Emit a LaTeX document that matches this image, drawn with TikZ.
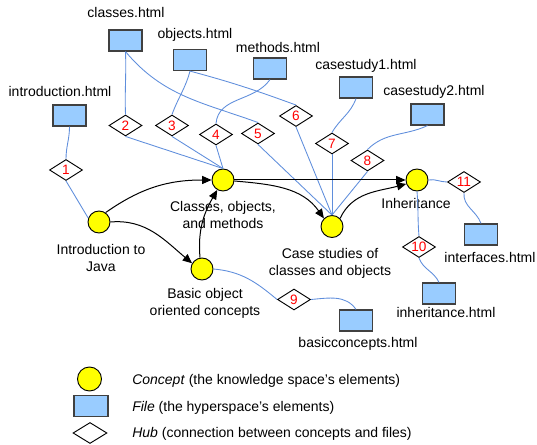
\documentclass[tikz,border=0pt]{standalone}
\usepackage{fontspec}
\setmainfont{Liberation Sans}
\usetikzlibrary{shapes.geometric,arrows.meta}

\definecolor{conceptyellow}{RGB}{255,255,0}
\definecolor{fileblue}{RGB}{153,204,255}
\definecolor{filegray}{RGB}{64,64,64}
\definecolor{linkblue}{RGB}{95,142,220}

\begin{document}
\begin{tikzpicture}[x=0.75pt,y=-0.75pt,
  concept/.style={circle,draw=black,line width=0.7pt,fill=conceptyellow,minimum size=16.5pt,inner sep=0pt},
  file/.style={rectangle,draw=filegray,line width=0.9pt,fill=fileblue,minimum width=24.75pt,minimum height=15.75pt,inner sep=0pt},
  hub/.style={diamond,draw=black,line width=0.7pt,fill=white,aspect=1.6,minimum width=24.75pt,minimum height=15.75pt,inner sep=0pt,text=red,font=\fontsize{10.2}{11}\selectfont},
  lbl/.style={font=\fontsize{10.5}{13}\selectfont,align=center,inner sep=0pt},
  link/.style={draw=linkblue,line width=0.65pt},
  flow/.style={draw=black,line width=0.75pt,-{Triangle[length=7pt,width=6pt]}}
]
\useasboundingbox (0,0) rectangle (537,445);

% concepts
\node[concept] (cIntro) at (99,222) {};
\node[concept] (cClass) at (223,180) {};
\node[concept] (cBasic) at (202,269) {};
\node[concept] (cCase)  at (332,226.5) {};
\node[concept] (cInh)   at (417,180) {};

% files
\node[file] (fIntro)   at (69.5,115.5) {};
\node[file] (fClasses) at (125.5,40.5) {};
\node[file] (fObjects) at (190,60) {};
\node[file] (fMethods) at (270,68.5) {};
\node[file] (fCaseA)   at (356,87.5) {};
\node[file] (fCaseB)   at (427.5,114.5) {};
\node[file] (fInterf)  at (481,234.5) {};
\node[file] (fInh)     at (439,293.5) {};
\node[file] (fBasic)   at (356,320.5) {};

% hubs
\node[hub] (h1)  at (66,170) {1};
\node[hub] (h2)  at (125.5,125.5) {2};
\node[hub] (h3)  at (172,125.5) {3};
\node[hub] (h4)  at (216,134.5) {4};
\node[hub] (h5)  at (258,133.5) {5};
\node[hub] (h6)  at (296,116) {6};
\node[hub] (h7)  at (332,143.5) {7};
\node[hub] (h8)  at (367.5,160.5) {8};
\node[hub] (h9)  at (294,299.5) {9};
\node[hub] (h10) at (419,247) {10};
\node[hub] (h11) at (464,182) {11};

% file labels
\node[lbl,anchor=base] (tIntro)   at (60,97)   {introduction.html};
\node[lbl,anchor=base] (tClasses) at (126,18)  {classes.html};
\node[lbl,anchor=base] (tObjects) at (195,39)  {objects.html};
\node[lbl,anchor=base] (tMethods) at (278,53)  {methods.html};
\node[lbl,anchor=base] (tCaseA)   at (366,70)  {casestudy1.html};
\node[lbl,anchor=base] (tCaseB)   at (434,96)  {casestudy2.html};
\node[lbl,anchor=base] (tInterf)  at (490,263) {interfaces.html};
\node[lbl,anchor=base] (tInh)     at (446,318) {inheritance.html};
\node[lbl,anchor=base] (tBasic)   at (358,348) {basicconcepts.html};

% concept labels (base anchor sits on the last line)
\node[lbl,anchor=base] (lIntro) at (101,272) {Introduction to\\Java};
\node[lbl,anchor=base] (lClass) at (223,229) {Classes, objects,\\and methods};
\node[lbl,anchor=base] (lBasic) at (205,316) {Basic object\\oriented concepts};
\node[lbl,anchor=base] (lCase)  at (330,276) {Case studies of\\classes and objects};
\node[lbl,anchor=base] (lInh)   at (416,209) {Inheritance};

% file -- hub -- concept links
\draw[link] (fIntro.south) to[out=-90,in=90] (h1.north);
\draw[link] (h1.south) -- (cIntro.160);
\draw[link] (fClasses.south) to[out=-88,in=92] (h2.north);
\draw[link] (fClasses.south) to[out=-50,in=160] (h5.north);
\draw[link] (h2.south) -- (cClass.north);
\draw[link] (fObjects.south) to[out=-105,in=70] (h3.north);
\draw[link] (fObjects.south) to[out=-15,in=160] (h6.north);
\draw[link] (h3.south) -- (cClass.north);
\draw[link] (fMethods.south) to[out=-125,in=85] (h4.north);
\draw[link] (h4.south) -- (cClass.north);
\draw[link] (h5.south) -- (cCase.north);
\draw[link] (h6.south) -- (cCase.north);
\draw[link] (fCaseA.south) to[out=-110,in=60] (h7.north);
\draw[link] (h7.south) -- (cCase.north);
\draw[link] (fCaseB.south) to[out=-155,in=45] (h8.north);
\draw[link] (h8.south) -- (cCase.north);
\draw[link] (cInh.east) to[out=10,in=180] (h11.west);
\draw[link] (h11.south) to[out=-95,in=110] (fInterf.north);
\draw[link] (cInh.south) to[out=-85,in=95] (h10.north);
\draw[link] (h10.south) to[out=-70,in=115] (fInh.north);
\draw[link] (cBasic.east) to[out=-5,in=140] (h9.west);
\draw[link] (h9.east) to[out=5,in=125] (fBasic.north);

% concept order
\draw[flow] (cIntro.55) to[out=35,in=180] (cClass.west);
\draw[flow] (cIntro.east) to[out=5,in=140] (cBasic.150);
\draw[flow] (cBasic.100) to[out=95,in=-120] (cClass.-120);
\draw[flow] (cClass.east) -- (cInh.west);
\draw[flow] (cClass.-5) to[out=-5,in=125] (cCase.135);
\draw[flow] (cCase.45) to[out=65,in=195] (cInh.200);

% legend
\node[concept,minimum size=18pt] (kConcept) at (89.5,379) {};
\node[file,minimum width=25.5pt] (kFile) at (91,406) {};
\node[hub,minimum width=25.5pt] (kHub) at (90,433) {};
\node[lbl,anchor=base west] (kConceptText) at (132,385) {\textit{Concept} (the knowledge space’s elements)};
\node[lbl,anchor=base west] (kFileText)    at (132,412) {\textit{File} (the hyperspace’s elements)};
\node[lbl,anchor=base west] (kHubText)     at (132,438) {\textit{Hub} (connection between concepts and files)};
\end{tikzpicture}
\end{document}
